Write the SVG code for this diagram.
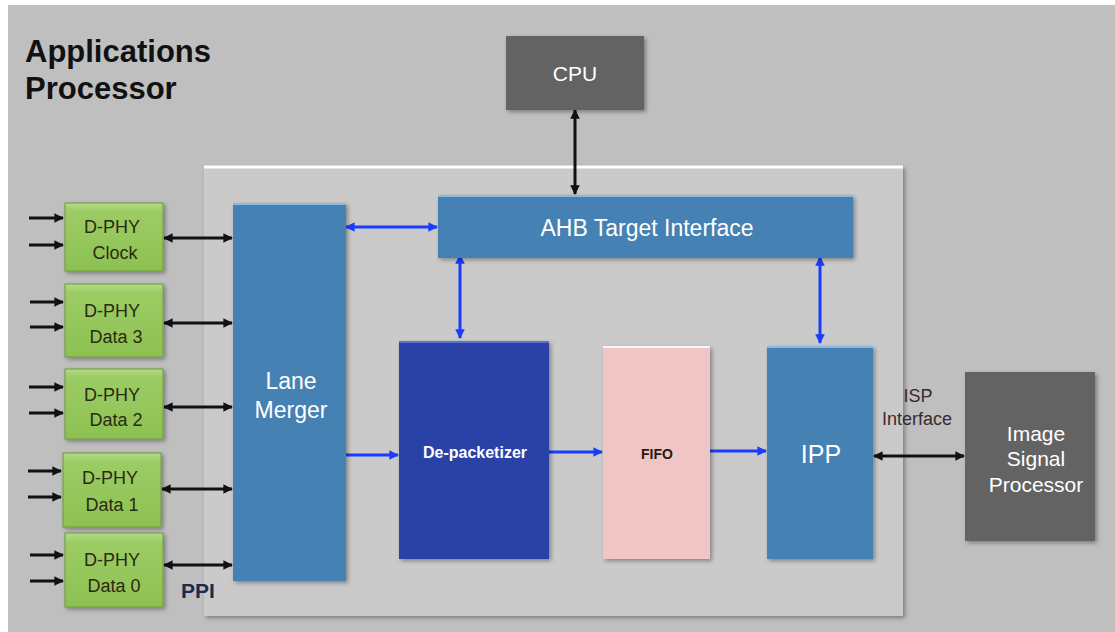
<svg xmlns="http://www.w3.org/2000/svg" width="1115" height="632" viewBox="0 0 1115 632">
<style>
.lbl{font-family:"Liberation Sans",Arial,sans-serif;text-anchor:middle}
.w{fill:#ffffff}
.d{fill:#2a2a10}
.blk{stroke:#111;stroke-width:3;fill:none}
.blu{stroke:#1a3cff;stroke-width:3;fill:none}
.sh{filter:url(#sh)}
.ph{font-size:18px}
</style>
<defs>
<filter id="sh" x="-10%" y="-10%" width="130%" height="130%">
<feDropShadow dx="2" dy="2" stdDeviation="2" flood-color="#000" flood-opacity="0.35"/>
</filter>
<marker id="ka" viewBox="0 0 10 10" refX="9" refY="5" markerWidth="3.2" markerHeight="3.2" orient="auto-start-reverse"><path d="M0,0 L10,5 L0,10 z" fill="#111"/></marker>
<marker id="ba" viewBox="0 0 10 10" refX="9" refY="5" markerWidth="3.2" markerHeight="3.2" orient="auto-start-reverse"><path d="M0,0 L10,5 L0,10 z" fill="#1a3cff"/></marker>
<linearGradient id="gG" x1="0" y1="0" x2="0" y2="1"><stop offset="0" stop-color="#b4dc84"/><stop offset="0.12" stop-color="#9ccc65"/><stop offset="1" stop-color="#8dc152"/></linearGradient>
</defs>
<rect x="0" y="0" width="1115" height="632" fill="#ffffff"/>
<rect x="8" y="5" width="1107" height="627" fill="#bfbfbf"/>
<text class="lbl" x="25" y="62" style="text-anchor:start;font-size:31px;font-weight:bold" fill="#111">Applications</text>
<text class="lbl" x="25" y="99" style="text-anchor:start;font-size:31px;font-weight:bold" fill="#111">Processor</text>

<g id="container">
<rect x="204" y="166" width="699" height="450" fill="#cacaca" class="sh"/>
<line x1="204" y1="167" x2="903" y2="167" stroke="#ffffff" stroke-width="3"/>
</g>

<g id="connectors">
<line class="blk" x1="29" y1="218" x2="63" y2="218" marker-end="url(#ka)"/>
<line class="blk" x1="29" y1="245" x2="63" y2="245" marker-end="url(#ka)"/>
<line class="blk" x1="30" y1="302" x2="63" y2="302" marker-end="url(#ka)"/>
<line class="blk" x1="30" y1="327" x2="63" y2="327" marker-end="url(#ka)"/>
<line class="blk" x1="29" y1="387" x2="63" y2="387" marker-end="url(#ka)"/>
<line class="blk" x1="29" y1="413" x2="63" y2="413" marker-end="url(#ka)"/>
<line class="blk" x1="28" y1="471" x2="61" y2="471" marker-end="url(#ka)"/>
<line class="blk" x1="28" y1="497" x2="61" y2="497" marker-end="url(#ka)"/>
<line class="blk" x1="30" y1="555" x2="63" y2="555" marker-end="url(#ka)"/>
<line class="blk" x1="30" y1="581" x2="63" y2="581" marker-end="url(#ka)"/>
<line class="blk" x1="164" y1="238" x2="232" y2="238" marker-start="url(#ka)" marker-end="url(#ka)"/>
<line class="blk" x1="164" y1="323" x2="232" y2="323" marker-start="url(#ka)" marker-end="url(#ka)"/>
<line class="blk" x1="164" y1="407" x2="232" y2="407" marker-start="url(#ka)" marker-end="url(#ka)"/>
<line class="blk" x1="162" y1="489" x2="232" y2="489" marker-start="url(#ka)" marker-end="url(#ka)"/>
<line class="blk" x1="164" y1="565" x2="232" y2="565" marker-start="url(#ka)" marker-end="url(#ka)"/>
<line class="blk" x1="575" y1="110" x2="575" y2="194" marker-start="url(#ka)" marker-end="url(#ka)"/>
<line class="blu" x1="346" y1="227" x2="437" y2="227" marker-start="url(#ba)" marker-end="url(#ba)"/>
<line class="blu" x1="460" y1="255" x2="460" y2="338" marker-start="url(#ba)" marker-end="url(#ba)"/>
<line class="blu" x1="820" y1="257" x2="820" y2="343" marker-start="url(#ba)" marker-end="url(#ba)"/>
<line class="blu" x1="346" y1="455" x2="398" y2="455" marker-end="url(#ba)"/>
<line class="blu" x1="549" y1="452" x2="602" y2="452" marker-end="url(#ba)"/>
<line class="blu" x1="710" y1="451" x2="766" y2="451" marker-end="url(#ba)"/>
<line class="blk" x1="874" y1="456" x2="964" y2="456" marker-start="url(#ka)" marker-end="url(#ka)"/>
</g>

<text class="lbl" x="198" y="598" style="font-size:21px;font-weight:bold" fill="#1a2a50">PPI</text>
<text class="lbl" x="918" y="402" style="font-size:18px" fill="#3a2a30">ISP</text>
<text class="lbl" x="917" y="425" style="font-size:18px" fill="#3a2a30">Interface</text>

<g id="cpu">
<rect x="506" y="36" width="138" height="74" fill="#636363" class="sh"/>
<text class="lbl w" x="575" y="81" style="font-size:21px">CPU</text>
</g>
<g id="ahb">
<rect x="438" y="195" width="415" height="63" fill="#4581b3" class="sh"/>
<line x1="438" y1="196" x2="853" y2="196" stroke="#8ab8e0" stroke-width="2"/>
<text class="lbl w" x="647" y="236" style="font-size:23px">AHB Target Interface</text>
</g>
<g id="lane-merger">
<rect x="233" y="203" width="113" height="378" fill="#4581b3" class="sh"/>
<line x1="233" y1="204" x2="346" y2="204" stroke="#8ab8e0" stroke-width="2"/>
<text class="lbl w" x="291" y="389" style="font-size:23px">Lane</text>
<text class="lbl w" x="291" y="418" style="font-size:23px">Merger</text>
</g>
<g id="depacketizer">
<rect x="399" y="341" width="150" height="218" fill="#2b43a5" class="sh"/>
<line x1="399" y1="342" x2="549" y2="342" stroke="#5a72d8" stroke-width="2"/>
<text class="lbl w" x="475" y="458" style="font-size:16px;font-weight:bold">De-packetizer</text>
</g>
<g id="fifo">
<rect x="603" y="346" width="107" height="213" fill="#f0c5c5" class="sh"/>
<line x1="603" y1="347" x2="710" y2="347" stroke="#fff3f3" stroke-width="2"/>
<text class="lbl" x="657" y="459" style="font-size:14px;font-weight:bold" fill="#2a1a10">FIFO</text>
</g>
<g id="ipp">
<rect x="767" y="346" width="106" height="213" fill="#4581b3" class="sh"/>
<line x1="767" y1="347" x2="873" y2="347" stroke="#8ab8e0" stroke-width="2"/>
<text class="lbl w" x="821" y="463" style="font-size:25px">IPP</text>
</g>
<g id="isp">
<rect x="965" y="372" width="130" height="169" fill="#636363" class="sh"/>
<text class="lbl w" x="1036" y="441" style="font-size:21px">Image</text>
<text class="lbl w" x="1036" y="466" style="font-size:21px">Signal</text>
<text class="lbl w" x="1036" y="492" style="font-size:21px">Processor</text>
</g>
<g id="dphy-clock">
<rect x="65" y="203" width="98" height="68" fill="url(#gG)" stroke="#6c9a3c" stroke-width="1" class="sh"/>
<text class="lbl d ph" x="112" y="233">D-PHY</text>
<text class="lbl d ph" x="115" y="259">Clock</text>
</g>
<g id="dphy-data3">
<rect x="65" y="284" width="98" height="73" fill="url(#gG)" stroke="#6c9a3c" stroke-width="1" class="sh"/>
<text class="lbl d ph" x="112" y="317">D-PHY</text>
<text class="lbl d ph" x="116" y="343">Data 3</text>
</g>
<g id="dphy-data2">
<rect x="65" y="369" width="98" height="70" fill="url(#gG)" stroke="#6c9a3c" stroke-width="1" class="sh"/>
<text class="lbl d ph" x="112" y="401">D-PHY</text>
<text class="lbl d ph" x="116" y="426">Data 2</text>
</g>
<g id="dphy-data1">
<rect x="63" y="453" width="98" height="74" fill="url(#gG)" stroke="#6c9a3c" stroke-width="1" class="sh"/>
<text class="lbl d ph" x="110" y="484">D-PHY</text>
<text class="lbl d ph" x="112" y="511">Data 1</text>
</g>
<g id="dphy-data0">
<rect x="65" y="533" width="98" height="74" fill="url(#gG)" stroke="#6c9a3c" stroke-width="1" class="sh"/>
<text class="lbl d ph" x="112" y="566">D-PHY</text>
<text class="lbl d ph" x="114" y="592">Data 0</text>
</g>
</svg>
